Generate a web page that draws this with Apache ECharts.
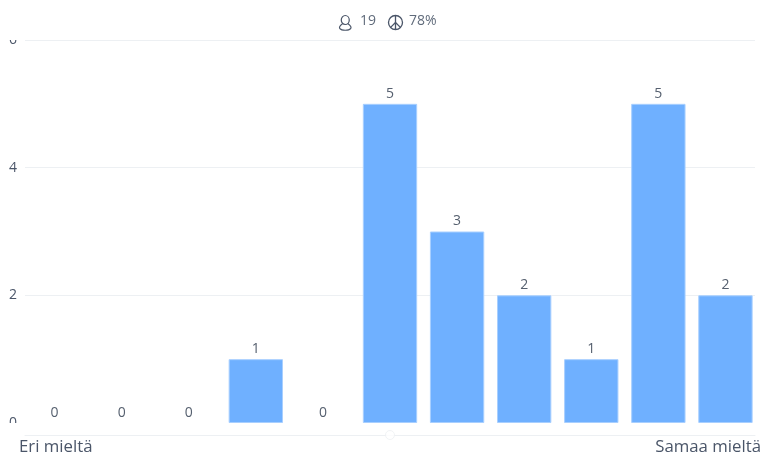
<!DOCTYPE html>
<html>
<head>
<meta charset="utf-8">
<style>html,body{margin:0;padding:0;background:#fff}#chart{width:761px;height:455px}</style>
<script src="https://cdn.jsdelivr.net/npm/echarts@6/dist/echarts.min.js"></script>
</head>
<body>
<div id="chart"></div>
<script>
// Answer distribution on an agreement scale
const categories = ['1','2','3','4','5','6','7','8','9','10','11'];
const counts = [0,0,0,1,0,5,3,2,1,5,2];
const yTicks = { min: 0, max: 6, interval: 2 };
const scaleLabels = ['Eri mieltä','Samaa mieltä'];
const respondents = '19';
const consensus = '78%';
const scaleThumb = [[5, 0]];

const FONT = '"Open Sans", sans-serif';
const TEXT = '#4a5568';
const chart = echarts.init(document.getElementById('chart'), null, { renderer: 'canvas' });

chart.setOption({
  animation: false,
  backgroundColor: '#ffffff',
  grid: [
    { left: 21, width: 738, top: 40, height: 383 },
    { left: 25, right: 6, top: 40, height: 383 },
    { left: 25, right: 6, top: 434, height: 1 }
  ],
  xAxis: [
    { gridIndex: 0, type: 'category', data: categories, show: false },
    { gridIndex: 1, type: 'value', min: 0, max: 1, show: false },
    { gridIndex: 2, type: 'value', min: 0, max: 10, axisLabel: { show: false }, axisTick: { show: false },
      splitLine: { show: false }, axisLine: { show: true, lineStyle: { color: '#edf0f3', width: 1 } } }
  ],
  yAxis: [
    { gridIndex: 0, type: 'value', ...yTicks, show: false },
    { gridIndex: 1, type: 'value', ...yTicks,
      axisLine: { show: false }, axisTick: { show: false },
      axisLabel: { color: TEXT, fontFamily: FONT, fontSize: 14, margin: 8 },
      splitLine: { show: true, showMinLine: false, lineStyle: { color: '#edf0f3', width: 1 } } },
    { gridIndex: 2, type: 'value', min: 0, max: 1, show: false }
  ],
  series: [
    {
      type: 'bar', xAxisIndex: 0, yAxisIndex: 0, barCategoryGap: '19%',
      // empty answers keep their count label but draw no outline
      data: counts.map(v => v === 0
        ? { value: v, itemStyle: { borderWidth: 0, color: 'transparent' } }
        : v),
      itemStyle: { color: '#6fb0ff', borderColor: '#a8cfff', borderWidth: 1 },
      label: { show: true, position: 'top', distance: 3, color: '#56606f', fontFamily: FONT, fontSize: 14 },
      silent: true, z: 3
    },
    {
      type: 'scatter', xAxisIndex: 2, yAxisIndex: 2, data: scaleThumb, symbol: 'circle', symbolSize: 9,
      itemStyle: { color: '#ffffff', borderColor: '#edf0f3', borderWidth: 1 }, silent: true
    }
  ],
  graphic: [
    // the value labels are cut off at the edges of the plot band
    { type: 'rect', z: 50, shape: { x: 0, y: 24, width: 24, height: 16 }, style: { fill: '#fff' } },
    { type: 'rect', z: 50, shape: { x: 0, y: 423, width: 24, height: 16 }, style: { fill: '#fff' } },
    { type: 'text', z: 60, left: 19, top: 439, style: { text: scaleLabels[0], fill: TEXT, font: '16.8px ' + FONT } },
    { type: 'text', z: 60, right: 0, top: 439, style: { text: scaleLabels[1], fill: TEXT, font: '16.8px ' + FONT } },
    { type: 'text', z: 60, left: 360, top: 14, style: { text: respondents, fill: '#606b7b', font: '14px ' + FONT } },
    { type: 'text', z: 60, left: 409, top: 14, style: { text: consensus, fill: '#606b7b', font: '14px ' + FONT } },
    // respondent icon
    { type: 'group', z: 60, left: 337, top: 13, children: [
      { type: 'ellipse', shape: { cx: 6.5, cy: 4.5, rx: 4, ry: 4.5 }, style: { fill: 'none', stroke: TEXT, lineWidth: 1.2 } },
      { type: 'bezierCurve', shape: { x1: 4, y1: 8, x2: 9, y2: 8, cpx1: -9, cpy1: 17, cpx2: 22, cpy2: 17 },
        style: { fill: 'none', stroke: TEXT, lineWidth: 1.2 } }
    ] },
    // consensus icon
    { type: 'group', z: 60, left: 386, top: 13, children: [
      { type: 'circle', shape: { cx: 7.5, cy: 7.5, r: 7 }, style: { fill: 'none', stroke: TEXT, lineWidth: 1.3 } },
      { type: 'line', shape: { x1: 7.5, y1: 0.5, x2: 7.5, y2: 14.5 }, style: { stroke: TEXT, lineWidth: 1.3 } },
      { type: 'line', shape: { x1: 7.5, y1: 7.5, x2: 2.6, y2: 12.4 }, style: { stroke: TEXT, lineWidth: 1.3 } },
      { type: 'line', shape: { x1: 7.5, y1: 7.5, x2: 12.4, y2: 12.4 }, style: { stroke: TEXT, lineWidth: 1.3 } }
    ] }
  ]
});
</script>
</body>
</html>
